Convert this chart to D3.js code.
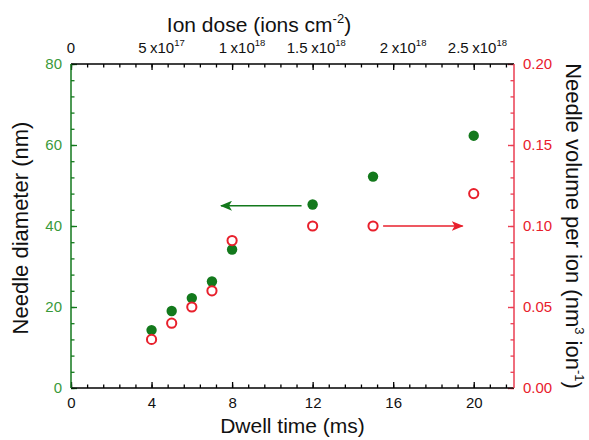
<!DOCTYPE html>
<html><head><meta charset="utf-8">
<script src="https://cdn.jsdelivr.net/npm/d3@7"></script>
<style>body{margin:0;background:#fff}svg{display:block;font-family:"Liberation Sans",Arial,sans-serif}</style>
</head><body>
<svg id="c" width="589" height="440"></svg>
<script>
// ---- data ----
const dwellTime = [4, 5, 6, 7, 8, 12, 15, 20];                          // ms
const diameter  = [14.3, 19.0, 22.2, 26.3, 34.2, 45.3, 52.2, 62.3];    // nm
const volume    = [0.030, 0.040, 0.050, 0.060, 0.091, 0.100, 0.100, 0.120]; // nm^3 ion^-1
const bottomTicks = [0, 4, 8, 12, 16, 20];
const leftTicks = [0, 20, 40, 60, 80];
const rightTicks = [0, 0.05, 0.10, 0.15, 0.20];
const topTicks = [0, 5e17, 1e18, 1.5e18, 2e18, 2.5e18];
const topMantissa = ["0", "5", "1", "1.5", "2", "2.5"];
const topExponent = ["", "17", "18", "18", "18", "18"];
const greenArrow = {from: 11.45, to: 7.45, y: 45};     // dwell time, diameter
const redArrow = {from: 15.5, to: 19.45, y: 0.10};     // dwell time, volume

// ---- layout ----
const L = 71, R = 514, T = 64, B = 388;
const GREEN = "#13791c", GREEN_T = "#3a9a3a", RED = "#e8202c", RED_AX = "#ea3e52";
const FS = 15, TFS = 22;
const svg = d3.select("#c");

const x = d3.scaleLinear().domain([0, 22]).range([L, R]);
const xTop = d3.scaleLinear().domain([0, 2.75e18]).range([L, R]);
const yL = d3.scaleLinear().domain([0, 80]).range([B, T]);
const yR = d3.scaleLinear().domain([0, 0.2]).range([B, T]);

function styleAxis(g, color) {
  g.select(".domain").remove();
  g.selectAll("line").attr("stroke", color).attr("stroke-width", 1.3);
}
const MJ = 6, MN = 3.5;

// bottom axis
const gb = svg.append("g").attr("transform", `translate(0,${B})`);
gb.call(d3.axisBottom(x).tickValues(d3.range(0, 22.01, 0.8)).tickSize(-MN).tickFormat(""));
styleAxis(gb, "#000");
const gb2 = svg.append("g").attr("transform", `translate(0,${B})`);
gb2.call(d3.axisBottom(x).tickValues(bottomTicks).tickSize(-MJ).tickFormat(d3.format("d")));
styleAxis(gb2, "#000");
gb2.selectAll("text").attr("y", 9).attr("dy", "0.71em").attr("font-size", FS).attr("fill", "#111").attr("font-family", null);

// top axis
const gt = svg.append("g").attr("transform", `translate(0,${T})`);
gt.call(d3.axisTop(xTop).tickValues(d3.range(0, 2.75e18 + 1, 1e17)).tickSize(-MN).tickFormat(""));
styleAxis(gt, "#000");
const gt2 = svg.append("g").attr("transform", `translate(0,${T})`);
gt2.call(d3.axisTop(xTop).tickValues(topTicks).tickSize(-MJ).tickFormat(""));
styleAxis(gt2, "#000");
const tl = svg.append("g").attr("font-size", FS).attr("fill", "#111");
topTicks.forEach((v, i) => {
  const px = xTop(v);
  if (!topExponent[i]) {
    tl.append("text").attr("x", px).attr("y", T - 11).attr("text-anchor", "middle").text(topMantissa[i]);
    return;
  }
  tl.append("text").attr("x", px - 5).attr("y", T - 11).attr("text-anchor", "end").text(topMantissa[i]);
  const t = tl.append("text").attr("x", px - 1.5).attr("y", T - 11);
  t.append("tspan").text("x10");
  t.append("tspan").attr("font-size", 9.5).attr("dy", -7).text(topExponent[i]);
});

// left axis
const gl = svg.append("g").attr("transform", `translate(${L},0)`);
gl.call(d3.axisLeft(yL).tickValues(d3.range(0, 80.01, 4)).tickSize(-MN).tickFormat(""));
styleAxis(gl, GREEN);
const gl2 = svg.append("g").attr("transform", `translate(${L},0)`);
gl2.call(d3.axisLeft(yL).tickValues(leftTicks).tickSize(-MJ).tickFormat(d3.format("d")));
styleAxis(gl2, GREEN);
gl2.selectAll("text").attr("x", -9).attr("font-size", FS).attr("fill", GREEN_T).attr("font-family", null);

// right axis
const gr = svg.append("g").attr("transform", `translate(${R},0)`);
gr.call(d3.axisRight(yR).tickValues(d3.range(0, 0.2001, 0.01)).tickSize(-MN).tickFormat(""));
styleAxis(gr, RED_AX);
const gr2 = svg.append("g").attr("transform", `translate(${R},0)`);
gr2.call(d3.axisRight(yR).tickValues(rightTicks).tickSize(-MJ).tickFormat(d3.format(".2f")));
styleAxis(gr2, RED_AX);
gr2.selectAll("text").attr("x", 9).attr("font-size", FS).attr("fill", RED).attr("font-family", null);

// axis lines
svg.append("line").attr("x1", L).attr("x2", R).attr("y1", B).attr("y2", B).attr("stroke", "#000").attr("stroke-width", 1.5);
svg.append("line").attr("x1", L).attr("x2", R).attr("y1", T).attr("y2", T).attr("stroke", "#000").attr("stroke-width", 1.5);
svg.append("line").attr("x1", L).attr("x2", L).attr("y1", T).attr("y2", B).attr("stroke", GREEN).attr("stroke-width", 1.5);
svg.append("line").attr("x1", R).attr("x2", R).attr("y1", T).attr("y2", B).attr("stroke", RED_AX).attr("stroke-width", 1.5);

// arrows
const defs = svg.append("defs");
[["ag", GREEN], ["ar", RED]].forEach(([id, c]) => {
  defs.append("marker").attr("id", id).attr("viewBox", "0 0 12 10").attr("refX", 11).attr("refY", 5)
    .attr("markerWidth", 12).attr("markerHeight", 10).attr("markerUnits", "userSpaceOnUse").attr("orient", "auto")
    .append("path").attr("d", "M0,0 L12,5 L0,10 L3,5 Z").attr("fill", c);
});
svg.append("line").attr("x1", x(greenArrow.from)).attr("x2", x(greenArrow.to))
  .attr("y1", yL(greenArrow.y)).attr("y2", yL(greenArrow.y))
  .attr("stroke", GREEN).attr("stroke-width", 1.5).attr("marker-end", "url(#ag)");
svg.append("line").attr("x1", x(redArrow.from)).attr("x2", x(redArrow.to))
  .attr("y1", yR(redArrow.y)).attr("y2", yR(redArrow.y))
  .attr("stroke", RED).attr("stroke-width", 1.5).attr("marker-end", "url(#ar)");

// points
svg.append("g").selectAll("circle").data(dwellTime).join("circle")
  .attr("cx", (d) => x(d)).attr("cy", (d, i) => yL(diameter[i])).attr("r", 5.2).attr("fill", GREEN);
svg.append("g").selectAll("circle").data(dwellTime).join("circle")
  .attr("cx", (d) => x(d)).attr("cy", (d, i) => yR(volume[i])).attr("r", 4.6)
  .attr("fill", "#fff").attr("stroke", RED).attr("stroke-width", 2);

// titles
svg.append("text").attr("x", (L + R) / 2).attr("y", 433).attr("text-anchor", "middle")
  .attr("font-size", 21).attr("fill", "#111").text("Dwell time (ms)");
const tt = svg.append("text").attr("x", 259).attr("y", 32).attr("text-anchor", "middle")
  .attr("font-size", 21).attr("fill", "#111");
tt.append("tspan").text("Ion dose (ions cm");
tt.append("tspan").attr("font-size", 13).attr("dy", -9).text("-2");
tt.append("tspan").attr("dy", 9).text(")");
svg.append("text").attr("transform", `translate(28,${(T + B) / 2 + 2}) rotate(-90)`).attr("text-anchor", "middle")
  .attr("font-size", TFS).attr("fill", "#111").text("Needle diameter (nm)");
const rt = svg.append("text").attr("transform", `translate(566,${(T + B) / 2}) rotate(90)`).attr("text-anchor", "middle")
  .attr("font-size", TFS).attr("fill", "#111");
rt.append("tspan").text("Needle volume per ion (nm");
rt.append("tspan").attr("font-size", 13).attr("dy", -9).text("3");
rt.append("tspan").attr("dy", 9).text(" ion");
rt.append("tspan").attr("font-size", 13).attr("dy", -9).text("-1");
rt.append("tspan").attr("dy", 9).text(")");
</script>
</body></html>
